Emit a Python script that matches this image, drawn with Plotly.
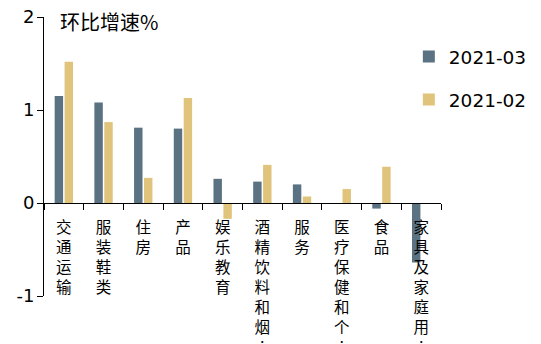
import plotly.graph_objects as go

categories = ["交通运输", "服装鞋类", "住房", "产品", "娱乐教育",
              "酒精饮料和烟︙", "服务", "医疗保健和个︙", "食品", "家具及家庭用︙"]
series_names = ["2021-03", "2021-02"]
values_0303 = [1.15, 1.08, 0.81, 0.80, 0.26, 0.23, 0.20, 0.00, -0.06, -0.64]
values_0302 = [1.52, 0.87, 0.27, 1.13, -0.17, 0.41, 0.07, 0.15, 0.39, 0.00]
colors = ["#5b7282", "#e1c47c"]
ytick_vals = [-1, 0, 1, 2]
ytick_text = ["-1", "0", "1", "2"]
title_text = "环比增速%"

ticktext = ["<br>".join(list(c)) for c in categories]

fig = go.Figure()
for name, vals, col, grp in [(series_names[0], values_0303, colors[0], "a"),
                             (series_names[1], values_0302, colors[1], "b")]:
    fig.add_trace(go.Bar(x=categories, y=vals, name=name, marker_color=col,
                         marker_line_width=0, legendgroup=grp))

font_main = "DejaVu Sans, Noto Sans CJK SC, sans-serif"
fig.update_layout(
    width=541, height=344,
    margin=dict(l=44, r=100, t=17, b=48, autoexpand=False),
    plot_bgcolor="white", paper_bgcolor="white",
    barmode="group", bargap=0.5, bargroupgap=0.15,
    font=dict(family=font_main, color="black"),
    showlegend=True,
    legend=dict(x=0.919, xanchor="left", y=0.925, yanchor="top",
                font=dict(size=18.5, family=font_main),
                tracegroupgap=16, traceorder="grouped",
                itemwidth=30, bgcolor="rgba(0,0,0,0)"),
    xaxis=dict(type="category", tickmode="array", tickvals=categories,
               ticktext=ticktext, tickangle=0,
               anchor="free", position=1/3,
               showline=True, linecolor="black", linewidth=1,
               ticks="outside", tickson="boundaries", ticklen=6,
               tickcolor="black", showgrid=False, zeroline=False,
               ticklabelstandoff=10,
               tickfont=dict(size=15.5, family="Noto Sans CJK SC, sans-serif"),
               automargin=False),
    yaxis=dict(range=[-1, 2], tickmode="array", tickvals=ytick_vals,
               ticktext=ytick_text,
               showline=True, linecolor="black", linewidth=1,
               ticks="outside", ticklen=6, tickcolor="black",
               showgrid=False, zeroline=False,
               ticklabelstandoff=-1,
               tickfont=dict(size=18, family=font_main),
               automargin=False),
    annotations=[dict(text=title_text, xref="paper", yref="paper",
                      x=0.035, y=0.983, xanchor="left", yanchor="middle",
                      showarrow=False,
                      font=dict(size=20, family="Noto Sans CJK SC, sans-serif"))],
)

fig.write_html("out.html")
